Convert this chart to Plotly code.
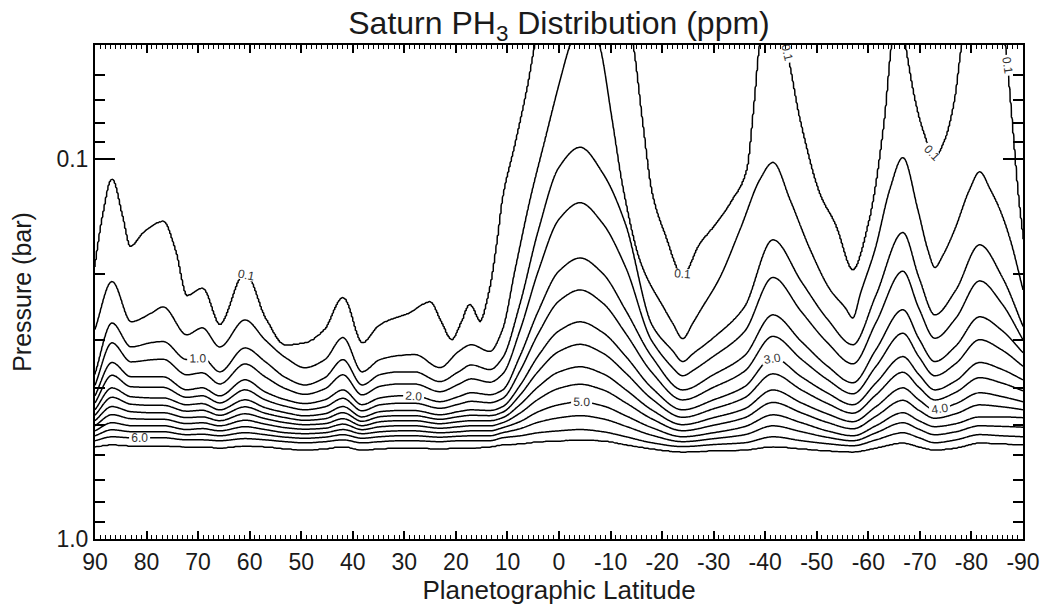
import numpy as np
import plotly.graph_objects as go

# ---- contour positions: latitude (deg) and pressure (bar) per level ----
lat_c01 = [90, 88.4, 86.7, 84.8, 83.2, 80.3, 76.8, 74.5, 72.2, 69.2, 65.8, 60.9, 57.0, 53.1, 49.3, 45.4, 41.9, 38.2, 34.7, 28.9, 25.0, 23.1, 20.8, 18.8, 17.3, 15.3, 13.4, 11.8, 10.9, 8.5, 6.0, 4.6, 3.0, -12.6, -14.3, -16.1, -18.0, -20.5, -24.0, -27.3, -31.2, -33.7, -36.5, -38.0, -39.0, -41.0, -43.8, -46.7, -50.6, -53.5, -57.0, -60.3, -63.2, -64.6, -66.0, -67.1, -69.0, -70.4, -72.9, -74.9, -76.8, -78.2, -79.7, -85.5, -86.5, -87.8, -89.0, -90.0]
p_c01 = [0.193, 0.140, 0.113, 0.140, 0.170, 0.155, 0.146, 0.173, 0.229, 0.219, 0.273, 0.200, 0.262, 0.309, 0.305, 0.281, 0.232, 0.305, 0.273, 0.254, 0.238, 0.265, 0.299, 0.268, 0.242, 0.268, 0.221, 0.160, 0.128, 0.092, 0.064, 0.050, 0.040, 0.040, 0.050, 0.079, 0.123, 0.158, 0.203, 0.168, 0.144, 0.128, 0.107, 0.070, 0.050, 0.040, 0.050, 0.079, 0.124, 0.148, 0.196, 0.144, 0.079, 0.050, 0.040, 0.050, 0.070, 0.083, 0.099, 0.089, 0.070, 0.050, 0.040, 0.040, 0.050, 0.079, 0.124, 0.163]

lat_c05 = [90, 86.7, 83.0, 79.0, 76.8, 72.2, 69.2, 65.8, 60.9, 57.0, 53.0, 49.3, 45.4, 41.9, 38.2, 34.7, 31.0, 28.0, 23.1, 19.5, 17.0, 13.4, 10.9, 8.5, 5.6, 2.7, -0.2, -2.1, -5.0, -7.9, -10.3, -12.4, -15.7, -20.5, -22.0, -24.0, -26.0, -27.3, -31.2, -35.1, -39.0, -41.5, -44.8, -48.7, -52.6, -55.5, -57.0, -58.5, -61.3, -64.2, -66.7, -69.6, -71.5, -72.9, -74.5, -76.8, -79.7, -81.6, -83.6, -85.5, -87.5, -90]
p_c05 = [0.281, 0.210, 0.268, 0.254, 0.245, 0.290, 0.278, 0.312, 0.265, 0.299, 0.333, 0.354, 0.337, 0.295, 0.363, 0.337, 0.329, 0.327, 0.354, 0.321, 0.308, 0.321, 0.281, 0.196, 0.128, 0.089, 0.062, 0.050, 0.040, 0.050, 0.079, 0.120, 0.186, 0.249, 0.270, 0.297, 0.270, 0.252, 0.205, 0.153, 0.113, 0.102, 0.128, 0.173, 0.221, 0.246, 0.262, 0.225, 0.173, 0.120, 0.099, 0.136, 0.173, 0.193, 0.179, 0.153, 0.120, 0.108, 0.120, 0.136, 0.163, 0.221]

lat_c1 = [90, 86.7, 83.0, 79.0, 76.8, 72.2, 69.2, 65.8, 60.9, 57.0, 53.0, 49.3, 45.4, 41.9, 38.2, 34.7, 31.0, 28.0, 23.1, 19.5, 17.0, 13.4, 10.9,
          7.6, 4.0, 0.0, -4.1, -8.5, -13.0, -18.0, -22.0, -24.0, -26.0, -30.0, -36.0, -41.5, -47.0, -52.0, -57.0, -61.5, -66.7, -69.8, -72.9, -77.0, -81.6, -86.0, -90.0]
p_c1 = [0.369, 0.270, 0.312, 0.304, 0.302, 0.337, 0.333, 0.363, 0.314, 0.341, 0.376, 0.393, 0.376, 0.337, 0.393, 0.369, 0.363, 0.363, 0.385, 0.363, 0.348, 0.358, 0.333,
        0.242, 0.154, 0.105, 0.093, 0.109, 0.149, 0.273, 0.319, 0.341, 0.325, 0.295, 0.245, 0.163, 0.210, 0.263, 0.308, 0.228, 0.156, 0.205, 0.257, 0.221, 0.168, 0.205, 0.276]

lat_main = [90, 86.7, 83.0, 79.0, 76.8, 72.2, 69.2, 65.8, 60.9, 57.0, 53.0, 49.3, 45.4, 41.9, 38.2, 34.7, 31.0, 28.0, 23.1, 19.5, 17.0, 13.4, 10.9,
            7.6, 4.0, 0.0, -4.1, -8.5, -13.0, -18.0, -24.0, -30.0, -36.0, -41.5, -47.0, -52.0, -57.0, -61.5, -66.7, -69.8, -72.9, -77.0, -81.6, -86.0, -90.0]
p_c2 = [0.420, 0.343, 0.374, 0.374, 0.374, 0.405, 0.400, 0.420, 0.381, 0.410, 0.430, 0.440, 0.430, 0.405, 0.443, 0.425, 0.420, 0.420, 0.435, 0.422, 0.412, 0.417, 0.405,
        0.331, 0.251, 0.197, 0.182, 0.200, 0.251, 0.331, 0.405, 0.369, 0.329, 0.257, 0.302, 0.350, 0.388, 0.317, 0.249, 0.297, 0.341, 0.310, 0.260, 0.283, 0.323]
p_c3 = [0.457, 0.400, 0.422, 0.425, 0.425, 0.443, 0.440, 0.457, 0.430, 0.451, 0.465, 0.474, 0.468, 0.448, 0.477, 0.462, 0.459, 0.459, 0.471, 0.462, 0.457, 0.459, 0.448,
        0.395, 0.329, 0.283, 0.268, 0.286, 0.331, 0.400, 0.457, 0.430, 0.397, 0.333, 0.374, 0.412, 0.443, 0.388, 0.331, 0.369, 0.405, 0.383, 0.343, 0.358, 0.381]
p_c4 = [0.488, 0.448, 0.462, 0.465, 0.465, 0.479, 0.477, 0.488, 0.468, 0.482, 0.494, 0.500, 0.497, 0.482, 0.503, 0.491, 0.488, 0.488, 0.497, 0.491, 0.488, 0.488, 0.479,
        0.443, 0.397, 0.363, 0.352, 0.367, 0.405, 0.457, 0.500, 0.479, 0.454, 0.405, 0.438, 0.468, 0.491, 0.448, 0.400, 0.430, 0.457, 0.440, 0.412, 0.422, 0.435]
p_c5 = [0.519, 0.494, 0.503, 0.503, 0.503, 0.515, 0.512, 0.519, 0.506, 0.515, 0.525, 0.528, 0.525, 0.515, 0.528, 0.522, 0.519, 0.519, 0.525, 0.522, 0.519, 0.519, 0.509,
        0.491, 0.462, 0.443, 0.435, 0.446, 0.474, 0.509, 0.538, 0.525, 0.506, 0.471, 0.494, 0.519, 0.535, 0.503, 0.465, 0.488, 0.506, 0.497, 0.477, 0.477, 0.479]
p_c6 = [0.551, 0.538, 0.541, 0.541, 0.541, 0.548, 0.548, 0.551, 0.544, 0.548, 0.554, 0.558, 0.554, 0.548, 0.558, 0.554, 0.551, 0.551, 0.554, 0.551, 0.551, 0.551, 0.541,
        0.535, 0.525, 0.519, 0.515, 0.522, 0.538, 0.558, 0.571, 0.564, 0.558, 0.538, 0.551, 0.561, 0.568, 0.548, 0.525, 0.541, 0.558, 0.548, 0.531, 0.535, 0.538]
p_c65 = [0.571, 0.564, 0.568, 0.568, 0.568, 0.571, 0.571, 0.575, 0.568, 0.571, 0.578, 0.582, 0.578, 0.571, 0.582, 0.578, 0.575, 0.575, 0.578, 0.575, 0.575, 0.571, 0.564,
         0.561, 0.554, 0.551, 0.548, 0.551, 0.564, 0.578, 0.589, 0.585, 0.582, 0.571, 0.578, 0.585, 0.589, 0.575, 0.558, 0.571, 0.582, 0.575, 0.558, 0.561, 0.564]

levels_read = [0.1, 0.5, 1.0, 2.0, 3.0, 4.0, 5.0, 6.0, 6.5]
curves = [(lat_c01, p_c01), (lat_c05, p_c05), (lat_c1, p_c1), (lat_main, p_c2), (lat_main, p_c3),
          (lat_main, p_c4), (lat_main, p_c5), (lat_main, p_c6), (lat_main, p_c65)]

x_ticks = list(range(90, -91, -10))
x_ticktext = [str(v) for v in x_ticks]
y_ticks = [0.1, 1.0]
y_ticktext = ["0.1", "1.0"]
y_minor = [0.05, 0.06, 0.07, 0.08, 0.09, 0.2, 0.3, 0.4, 0.5, 0.6, 0.7, 0.8, 0.9]


def pchip(x, y, xq):
    x = np.asarray(x, float); y = np.asarray(y, float)
    h = np.diff(x); d = np.diff(y) / h
    n = len(x); m = np.zeros(n)
    for k in range(1, n - 1):
        if d[k - 1] * d[k] > 0:
            w1 = 2 * h[k] + h[k - 1]; w2 = h[k] + 2 * h[k - 1]
            m[k] = (w1 + w2) / (w1 / d[k - 1] + w2 / d[k])
    m[0] = d[0]; m[-1] = d[-1]
    i = np.clip(np.searchsorted(x, xq) - 1, 0, n - 2)
    t = (xq - x[i]) / h[i]
    h00 = 2 * t**3 - 3 * t**2 + 1; h10 = t**3 - 2 * t**2 + t
    h01 = -2 * t**3 + 3 * t**2; h11 = t**3 - t**2
    return h00 * y[i] + h10 * h[i] * m[i] + h01 * y[i + 1] + h11 * h[i] * m[i + 1]


# ---- gridded field whose contours pass through the read positions ----
lat_grid = np.linspace(-90, 90, 721)
logp_grid = np.linspace(np.log10(0.045), np.log10(1.05), 600)
LP = []
for lat_k, p_k in curves:
    la = np.array(lat_k, float)[::-1]
    lp = np.log10(np.array(p_k, float))[::-1]
    LP.append(pchip(la, lp, lat_grid))
LP = np.array(LP)
z = np.zeros((logp_grid.size, lat_grid.size))
for j in range(lat_grid.size):
    lps = LP[:, j].copy()
    for k in range(1, len(lps)):
        lps[k] = max(lps[k], lps[k - 1] + 0.003)
    xs = np.concatenate([[-3.0], lps, [1.0]])
    ys = np.concatenate([[0.0], levels_read, [8.0]])
    z[:, j] = np.interp(logp_grid, xs, ys)

p_grid = 10 ** logp_grid
black = [[0, "black"], [1, "black"]]
lab_font = dict(family="Liberation Sans", size=12, color="#333")


def ctr(start, end, size, labels):
    return go.Contour(
        x=lat_grid, y=p_grid, z=z,
        contours=dict(coloring="lines", start=start, end=end, size=size,
                      showlabels=labels, labelfont=lab_font, labelformat=".1f"),
        colorscale=black, showscale=False, line=dict(width=1.5, smoothing=0.8),
        hoverinfo="skip")


fig = go.Figure()
fig.add_trace(ctr(0.5, 6.5, 1.0, False))
fig.add_trace(ctr(1.0, 6.0, 1.0, True))
fig.add_trace(ctr(0.1, 0.1, 1.0, True))

font = "Liberation Sans"
txt = "#1a1a1a"
fig.update_layout(
    width=1047, height=611,
    margin=dict(l=95, r=24, t=45, b=72, autoexpand=False),
    paper_bgcolor="white", plot_bgcolor="white",
    title=dict(text="Saturn PH<sub>3</sub> Distribution (ppm)", xref="paper", x=0.5, xanchor="center",
               yref="container", y=0.963, yanchor="middle", font=dict(family=font, size=32, color=txt)),
    showlegend=False,
)
fig.update_xaxes(
    range=[90, -90], tickvals=x_ticks, ticktext=x_ticktext, automargin=False,
    ticks="inside", ticklen=8, tickwidth=1.5, tickcolor="black", ticklabelstandoff=1,
    minor=dict(dtick=1, tick0=0, ticks="inside", ticklen=4, tickwidth=1, tickcolor="black"),
    showline=True, linewidth=2, linecolor="black", mirror="allticks",
    showgrid=False, zeroline=False,
    tickfont=dict(family=font, size=23, color=txt),
    title=dict(text="Planetographic Latitude", font=dict(family=font, size=26, color=txt), standoff=2),
)
fig.update_yaxes(
    type="log", range=[0, np.log10(0.05)], tickvals=y_ticks, ticktext=y_ticktext, automargin=False,
    ticks="inside", ticklen=20, tickwidth=1.5, tickcolor="black",
    minor=dict(tickvals=y_minor, ticks="inside", ticklen=10, tickwidth=1.5, tickcolor="black", showgrid=False),
    showline=True, linewidth=2, linecolor="black", mirror="allticks",
    showgrid=False, zeroline=False,
    tickfont=dict(family=font, size=23, color=txt),
    title=dict(text="Pressure (bar)", font=dict(family=font, size=25, color=txt), standoff=18),
)

fig.write_html("out.html", config={"displayModeBar": False},
               post_script="document.body.style.margin='0';document.body.style.overflow='hidden';")
